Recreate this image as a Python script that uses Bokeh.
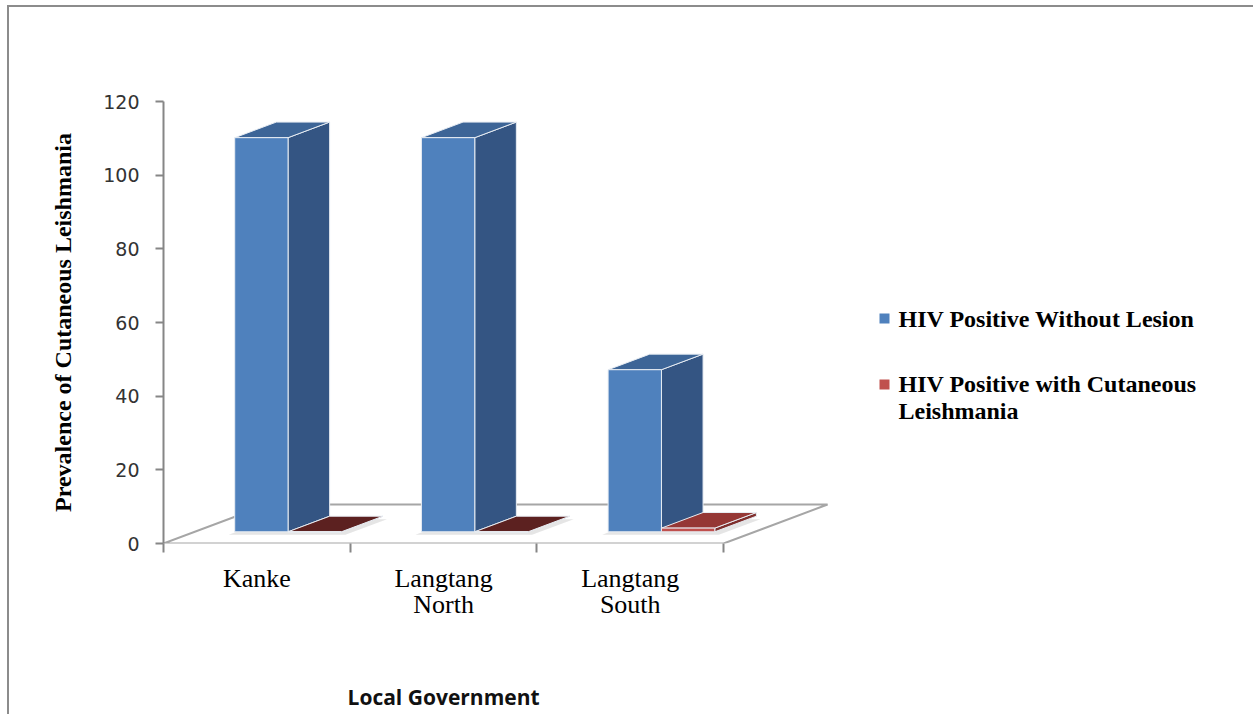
import numpy as np
from bokeh.plotting import figure
from bokeh.models import FixedTicker, Range1d, LinearAxis
from bokeh.core.properties import value
from bokeh.embed import file_html
from bokeh.resources import INLINE

# ---------------- data ----------------
categories = ["Kanke", "Langtang North", "Langtang South"]
tick_labels = ["Kanke", "Langtang\nNorth", "Langtang\nSouth"]
series_names = ["HIV Positive Without Lesion", "HIV Positive with Cutaneous\nLeishmania"]
without_lesion = [107, 107, 44]
with_leishmania = [0, 0, 1]
y_ticks = [0, 20, 40, 60, 80, 100, 120]
x_title = "Local Government"
y_title = "Prevalence of Cutaneous Leishmania"

# ---------------- layout ----------------
W, H = 1246, 709
LEFT, RIGHT, TOP, BOTTOM = 154, 4, 94, 173
PX_PER_CAT = 186.7
FRAME_W = W - LEFT - RIGHT
FRAME_H = H - TOP - BOTTOM
Y_MAX = 120
PX_PER_UNIT = FRAME_H / Y_MAX
X_MAX = FRAME_W / PX_PER_CAT

# oblique floor depth in px -> data units
DEPTH_PX_X, DEPTH_PX_Y = 104, 39
DX = DEPTH_PX_X / PX_PER_CAT
DY = DEPTH_PX_Y / PX_PER_UNIT
GAP = 1.5
BAR_W = 1.0 / (2 + GAP)
D0, D1 = 0.3, 0.7

def px_x(px):  # offset in px right of the axis origin -> data x
    return px / PX_PER_CAT

def px_y(px):  # offset in px above the axis origin -> data y
    return px / PX_PER_UNIT

def faces(x0, x1, h):
    fx0, fx1 = x0 + D0 * DX, x1 + D0 * DX
    fy0 = D0 * DY
    fy1 = fy0 + h
    ddx, ddy = (D1 - D0) * DX, (D1 - D0) * DY
    front = ([fx0, fx1, fx1, fx0], [fy0, fy0, fy1, fy1])
    top = ([fx0, fx1, fx1 + ddx, fx0 + ddx], [fy1, fy1, fy1 + ddy, fy1 + ddy])
    side = ([fx1, fx1 + ddx, fx1 + ddx, fx1], [fy0, fy0 + ddy, fy1 + ddy, fy1])
    return front, top, side

p = figure(width=W, height=H, output_backend="svg", toolbar_location=None,
           x_range=Range1d(0, X_MAX), y_range=Range1d(0, Y_MAX),
           min_border_left=LEFT, min_border_right=RIGHT,
           min_border_top=TOP, min_border_bottom=BOTTOM,
           background_fill_color="white", border_fill_color="white")
p.styles = {"border-top": "2px solid #8c8c8c", "border-left": "2px solid #8c8c8c",
            "margin-top": "5px", "margin-left": "7px"}
p.outline_line_color = None
p.grid.visible = False

n = len(categories)
# floor
p.patch([0, n, n + DX, DX], [0, 0, DY, DY], fill_color="white",
        line_color="#a6a6a6", line_width=2)

# soft shadows under each bar pair
sh_x, sh_y = [], []
for i in range(n):
    x0 = i + 0.75 * BAR_W + D0 * DX - px_x(6)
    x1 = i + 0.75 * BAR_W + 2 * BAR_W + D0 * DX + px_x(4)
    y0 = D0 * DY - px_y(3)
    ddx, ddy = (D1 - D0) * DX, (D1 - D0) * DY
    sh_x.append([x0, x1, x1 + ddx, x0 + ddx])
    sh_y.append([y0, y0, y0 + ddy, y0 + ddy])
p.patches(sh_x, sh_y, fill_color="#cfcfcf", fill_alpha=0.55, line_color=None)

series = [
    (without_lesion, 0, "#4f81bd", ["#3d6597"] * n, "#345583"),
    (with_leishmania, 1, "#c0504d",
     ["#5c2120" if v == 0 else "#953735" for v in with_leishmania], "#7f2f2d"),
]
for vals, k, c_front, c_tops, c_side in series:
    fr_x, fr_y, tp_x, tp_y, sd_x, sd_y = [], [], [], [], [], []
    for i, v in enumerate(vals):
        x0 = i + 0.75 * BAR_W + k * BAR_W
        front, top, side = faces(x0, x0 + BAR_W, v)
        fr_x.append(front[0]); fr_y.append(front[1])
        tp_x.append(top[0]); tp_y.append(top[1])
        sd_x.append(side[0]); sd_y.append(side[1])
    p.patches(sd_x, sd_y, fill_color=c_side, line_color="#e8edf3", line_width=1)
    p.patches(tp_x, tp_y, fill_color=c_tops, line_color="#e8edf3", line_width=1)
    p.patches(fr_x, fr_y, fill_color=c_front, line_color="#e8edf3", line_width=1)

# y axis
ya = p.yaxis[0]
ya.ticker = FixedTicker(ticks=y_ticks)
ya.axis_line_color = "#868686"
ya.axis_line_width = 2
ya.major_tick_line_color = "#868686"
ya.major_tick_line_width = 2
ya.major_tick_out = 8
ya.major_tick_in = 0
ya.minor_tick_line_color = None
ya.major_label_text_font = "DejaVu Sans"
ya.major_label_text_font_size = "19px"
ya.major_label_text_color = "#333333"
ya.major_label_standoff = 16
ya.axis_label = y_title
ya.axis_label_text_font = "Liberation Serif"
ya.axis_label_text_font_style = "bold"
ya.axis_label_text_font_size = "24px"
ya.axis_label_text_color = "black"
ya.axis_label_standoff = 24

# x axis: labels at category centres, ticks at boundaries
xa = p.xaxis[0]
centres = [i + 0.5 for i in range(n)]
xa.ticker = FixedTicker(ticks=centres, minor_ticks=list(range(n + 1)))
xa.major_label_overrides = {c: t for c, t in zip(centres, tick_labels)}
xa.axis_line_color = None
xa.major_tick_line_color = None
xa.major_tick_out = 0
xa.major_tick_in = 0
xa.minor_tick_line_color = "#868686"
xa.minor_tick_line_width = 2
xa.minor_tick_out = 9
xa.minor_tick_in = 0
xa.major_label_text_font = "Liberation Serif"
xa.major_label_text_font_size = "26px"
xa.major_label_text_line_height = 0.9
xa.major_label_text_color = "black"
xa.major_label_standoff = 11

# x axis title as a second axis centred on the categories
xt = LinearAxis(ticker=FixedTicker(ticks=[n / 2], minor_ticks=[]),
                major_label_overrides={n / 2: x_title})
xt.axis_line_color = None
xt.major_tick_line_color = None
xt.minor_tick_line_color = None
xt.major_label_text_font = "Open Sans"
xt.major_label_text_font_style = "bold"
xt.major_label_text_font_size = "21px"
xt.major_label_text_color = "#111111"
xt.major_label_standoff = 55
p.add_layout(xt, "below")

# legend (manual)
LEG_SQ_PX, LEG_TX_PX = 721, 735
leg_y_px = [225, 146]
leg_colors = ["#4f81bd", "#c0504d"]
sq_y_px = [225, 159]
p.scatter([px_x(LEG_SQ_PX)] * 2, [px_y(v) for v in sq_y_px], marker="square",
          size=10, fill_color=leg_colors, line_color=None)
p.text([px_x(LEG_TX_PX)] * 2, [px_y(v) for v in leg_y_px], text=series_names,
       text_font=value("Liberation Serif"), text_font_style="bold",
       text_font_size="24px", text_baseline="middle", text_align="left",
       text_line_height=1.05, text_color="black")

open("out.html", "w").write(file_html(p, INLINE))
